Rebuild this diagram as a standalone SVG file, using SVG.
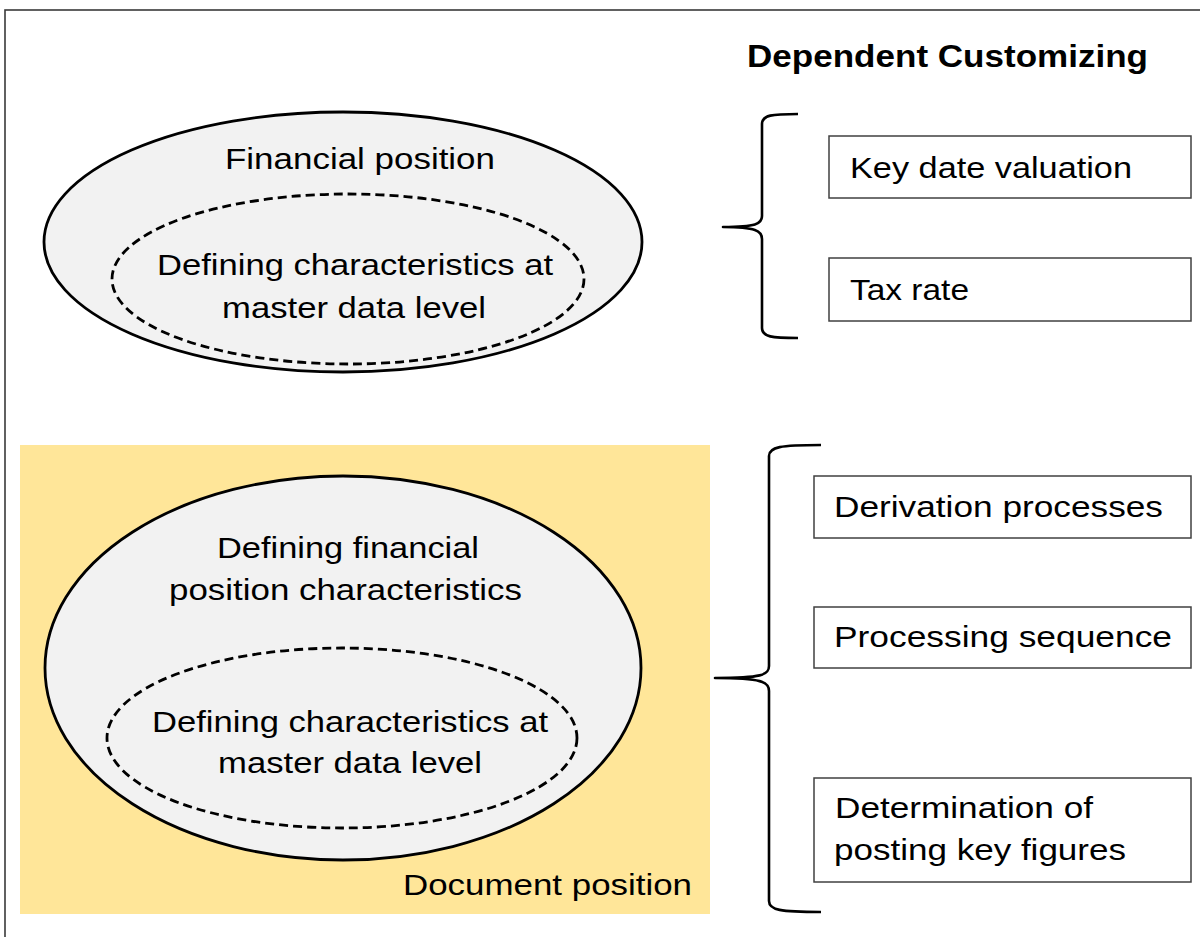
<svg xmlns="http://www.w3.org/2000/svg" width="1200" height="937" viewBox="0 0 1200 937">
  <style>
    .t { font-family: "Liberation Sans", Arial, sans-serif; font-size: 29px; fill: #000; }
    .tb { font-family: "Liberation Sans", Arial, sans-serif; font-size: 31px; font-weight: bold; fill: #000; }
    .ell { fill: #F2F2F2; stroke: #000; stroke-width: 2.8; }
    .dash { fill: none; stroke: #000; stroke-width: 2.8; stroke-dasharray: 9 5; }
    .box { fill: #FFFFFF; stroke: #404040; stroke-width: 1.5; }
    .brace { fill: none; stroke: #000; stroke-width: 2.6; stroke-linejoin: round; }
  </style>
  <rect x="0" y="0" width="1200" height="937" fill="#FFFFFF"/>
  <rect id="frame" x="5" y="10" width="1210" height="940" fill="none" stroke="#3A3A3A" stroke-width="1.6"/>

  <text id="title" class="tb" x="747" y="67" textLength="401" lengthAdjust="spacingAndGlyphs">Dependent Customizing</text>

  <g id="financial-position">
    <ellipse class="ell" cx="343" cy="242" rx="299" ry="130"/>
    <text class="t" x="225" y="169" textLength="270" lengthAdjust="spacingAndGlyphs">Financial position</text>
    <g id="fp-master-data">
      <ellipse class="dash" cx="348" cy="279" rx="236" ry="85"/>
      <text class="t" x="157" y="275" textLength="396" lengthAdjust="spacingAndGlyphs">Defining characteristics at</text>
      <text class="t" x="222" y="318" textLength="264" lengthAdjust="spacingAndGlyphs">master data level</text>
    </g>
  </g>

  <g id="document-position">
    <rect x="20" y="445" width="690" height="469" fill="#FFE699"/>
    <text class="t" x="403" y="895" textLength="289" lengthAdjust="spacingAndGlyphs">Document position</text>
    <g id="dp-financial">
      <ellipse class="ell" cx="343" cy="668" rx="298" ry="192"/>
      <text class="t" x="217" y="558" textLength="262" lengthAdjust="spacingAndGlyphs">Defining financial</text>
      <text class="t" x="169" y="600" textLength="353" lengthAdjust="spacingAndGlyphs">position characteristics</text>
      <g id="dp-master-data">
        <ellipse class="dash" cx="342" cy="738" rx="235" ry="90"/>
        <text class="t" x="152" y="732" textLength="396" lengthAdjust="spacingAndGlyphs">Defining characteristics at</text>
        <text class="t" x="218" y="773" textLength="264" lengthAdjust="spacingAndGlyphs">master data level</text>
      </g>
    </g>
  </g>

  <g id="connectors">
    <path class="brace" d="M798,114 C772,114 762,115 762,124 L762,216 C762,224 756,227 723,227 C756,227 762,231 762,239 L762,328 C762,337 772,338 798,338"/>
    <path class="brace" d="M821,445 C780,445 769,447 769,456 L769,666 C769,675 762,678 715,678 C762,678 769,682 769,691 L769,901 C769,910 780,912 821,912"/>
  </g>

  <g id="key-date-valuation">
    <rect class="box" x="829" y="136" width="362" height="62"/>
    <text class="t" x="850" y="178" textLength="282" lengthAdjust="spacingAndGlyphs">Key date valuation</text>
  </g>
  <g id="tax-rate">
    <rect class="box" x="829" y="258" width="362" height="63"/>
    <text class="t" x="850" y="300" textLength="119" lengthAdjust="spacingAndGlyphs">Tax rate</text>
  </g>
  <g id="derivation-processes">
    <rect class="box" x="814" y="476" width="377" height="62"/>
    <text class="t" x="834" y="517" textLength="329" lengthAdjust="spacingAndGlyphs">Derivation processes</text>
  </g>
  <g id="processing-sequence">
    <rect class="box" x="814" y="607" width="377" height="61"/>
    <text class="t" x="834" y="647" textLength="338" lengthAdjust="spacingAndGlyphs">Processing sequence</text>
  </g>
  <g id="determination">
    <rect class="box" x="814" y="778" width="377" height="104"/>
    <text class="t" x="835" y="818" textLength="258" lengthAdjust="spacingAndGlyphs">Determination of</text>
    <text class="t" x="834" y="860" textLength="292" lengthAdjust="spacingAndGlyphs">posting key figures</text>
  </g>
</svg>
